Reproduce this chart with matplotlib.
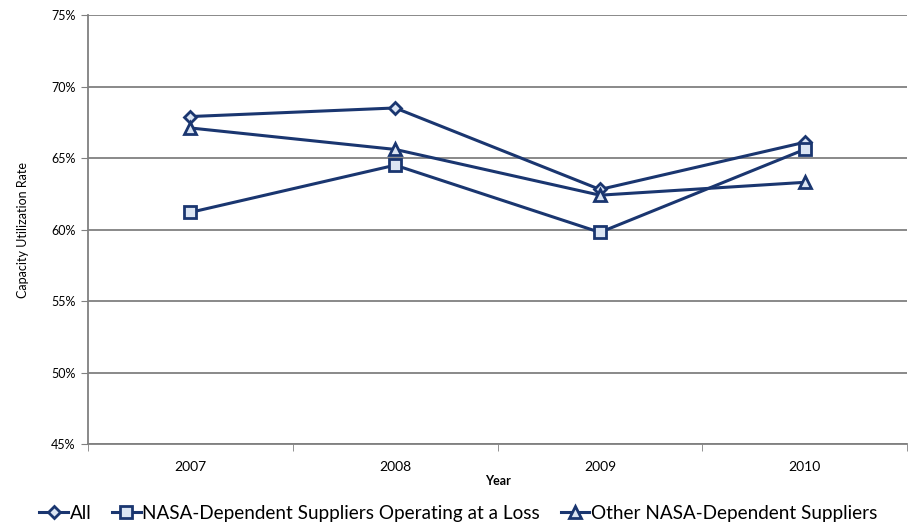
import numpy as np
import matplotlib.pyplot as plt
from matplotlib.ticker import FixedLocator, PercentFormatter

# ===== 数据 =====
years = ["2007", "2008", "2009", "2010"]
all_rate = [67.9, 68.5, 62.8, 66.1]
loss_rate = [61.2, 64.5, 59.8, 65.6]
other_rate = [67.1, 65.6, 62.4, 63.3]

plt.rcParams["font.family"] = ["Lato", "DejaVu Sans"]

navy = "#1a3670"
fill = "#dbe5f3"

fig = plt.figure(figsize=(9.08, 5.27), dpi=100)
ax = fig.add_axes([0.097, 0.1575, 0.902, 0.814])

x = np.arange(len(years))
style = dict(color=navy, lw=2.2, mfc=fill, mec=navy, mew=2.0, ms=8)
ax.plot(x, all_rate, marker="D", label="All", **dict(style, ms=6.5))
ax.plot(x, loss_rate, marker="s", label="NASA-Dependent Suppliers Operating at a Loss", **style)
ax.plot(x, other_rate, marker="^", label="Other NASA-Dependent Suppliers", **style)

ax.set_xlim(-0.5, len(years) - 0.5)
ax.set_ylim(45, 75)
ax.set_yticks(np.arange(45, 76, 5))
ax.yaxis.set_major_formatter(PercentFormatter(decimals=0))
ax.set_xticks(x)
ax.set_xticklabels(years)
ax.xaxis.set_minor_locator(FixedLocator(np.arange(-0.5, len(years), 1.0)))
ax.tick_params(axis="x", which="major", length=0, pad=12, labelsize=10)
ax.tick_params(axis="x", which="minor", length=5, color="#808080")
ax.tick_params(axis="y", length=5, color="#808080", labelsize=9, pad=4)

ax.grid(axis="y", color="#808080", lw=1.3)
ax.set_axisbelow(True)
for s in ["top", "right"]:
    ax.spines[s].set_visible(False)
for s in ["left", "bottom"]:
    ax.spines[s].set_color("#808080")
    ax.spines[s].set_linewidth(1.3)

ax.set_xlabel("Year", fontsize=9, fontweight="bold", labelpad=2)
ax.set_ylabel("Capacity Utilization Rate", fontsize=9, labelpad=16)

fig.legend(loc="lower center", bbox_to_anchor=(0.505, -0.022), ncol=3, frameon=False,
           fontsize=13.6, handlelength=1.5, handletextpad=0.1, columnspacing=1.1)

fig.savefig("out.png", dpi=100)
